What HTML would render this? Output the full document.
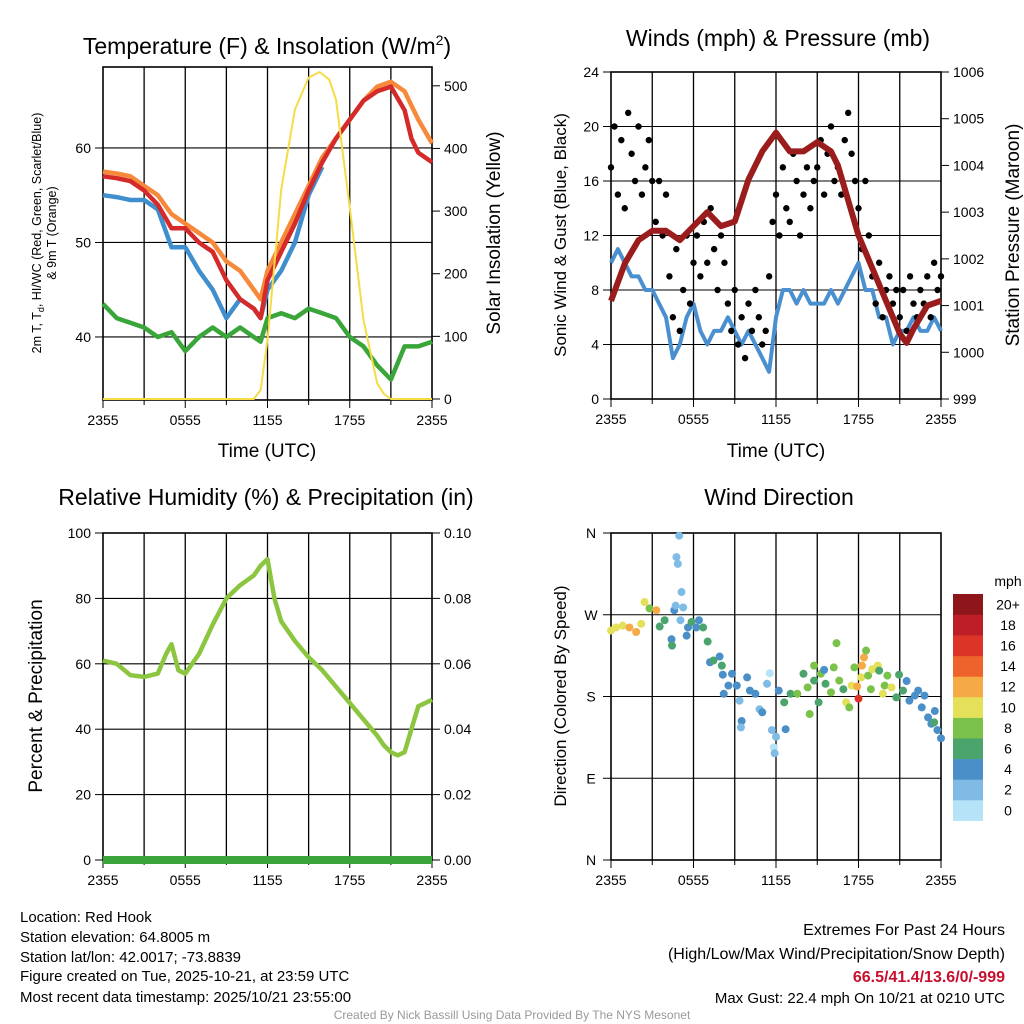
<!DOCTYPE html>
<html><head><meta charset="utf-8"><style>
body{margin:0;background:#fff}
svg{display:block;font-family:"Liberation Sans",Arial,sans-serif}
</style></head><body>
<svg id="s" width="1024" height="1024" viewBox="0 0 1024 1024" xmlns="http://www.w3.org/2000/svg">
<rect width="1024" height="1024" fill="#fff"/>
<g id="g"></g>
<g font-size="15" fill="#000">
<text x="20" y="922">Location: Red Hook</text>
<text x="20" y="942">Station elevation: 64.8005 m</text>
<text x="20" y="962">Station lat/lon: 42.0017; -73.8839</text>
<text x="20" y="981">Figure created on Tue, 2025-10-21, at 23:59 UTC</text>
<text x="20" y="1002">Most recent data timestamp: 2025/10/21 23:55:00</text>
</g>
<g font-size="16" text-anchor="end">
<text x="1005" y="935">Extremes For Past 24 Hours</text>
<text x="1005" y="959">(High/Low/Max Wind/Precipitation/Snow Depth)</text>
<text x="1005" y="982" fill="#c8102e" font-weight="bold">66.5/41.4/13.6/0/-999</text>
<text x="1005" y="1003" font-size="15">Max Gust: 22.4 mph On 10/21 at 0210 UTC</text>
</g>
<text x="512" y="1019" font-size="12" fill="#999" text-anchor="middle">Created By Nick Bassill Using Data Provided By The NYS Mesonet</text>
</svg>
<script>
// ---- data ----
const xTickLabels = ["2355","0555","1155","1755","2355"];
const tempHours = [0,1,2,3,4,5,6,7,8,9,10,11,11.5,12,13,14,15,16,17,18,19,20,21,22,22.5,23,24];
const temp9m   = [57.5,57.3,57,56,55,53,52,51,50,48,47,45,44,47,50,53,56,59,61,63,65,66.5,67,66,64.5,63,60.5];
const temp2m   = [57,56.8,56.5,55.5,54,51.5,51.5,50,49,46,44,43,42,46,49,52,55.5,58.5,61,63,65,66,66.5,64,61,59.5,58.5];
const windChill= [55,54.8,54.5,54.5,53.5,49.5,49.5,47,45,42,44,43,42,45,47,50,55,58,null,null,null,null,null,null,null,null,null];
const dewpoint = [43.5,42,41.5,41,40,40.5,38.5,40,41,40,41,40,39.5,42,42.5,42,43,42.5,42,40,39,37,35.5,39,39,39,39.5];
const solarHours = [0,11,11.5,12,13,14,15,15.8,16.5,17,18,19,20,20.5,21,24];
const solar = [0,0,14,94,334,462,513,522,510,478,305,126,25,8,0,0];
const windHours = [];for(let i=0;i<=48;i++)windHours.push(i*0.5);
const sonicWind = [10,11,10,9,9,8,8,7,6,3,4,6,7,5,4,5,5,6,5,4,5,4,3,2,6,8,8,7,8,7,7,7,8,7,8,9,10,8,8,6,6,4,5,5,6,5,5,6,5];
const gusts = [17,20,15,19,14,21,18,16,20,15,17,19,16,13,16,12,15,9,6,11,5,8,12,7,10,12,9,13,10,14,11,8,12,10,7,5,8,4,6,3,7,5,8,6,4,5,9,13,15,12,17,14,13,18,16,12,15,17,14,16,17,19,15,18,20,16,17,15,19,21,18,16,14,11,16,12,9,7,10,6,8,9,7,8,6,8,5,9,7,6,8,7,9,6,10,8,9];
const presHours = [0,1,2,3,4,5,6,7,8,9,10,11,11.5,12,12.5,13,14,15,16,16.5,17,18,19,20,21,21.5,22,23,24];
const pressure = [1001.1,1001.9,1002.4,1002.6,1002.6,1002.4,1002.7,1003.0,1002.7,1002.8,1003.7,1004.3,1004.5,1004.7,1004.5,1004.3,1004.3,1004.5,1004.3,1004.0,1003.5,1002.5,1001.8,1001.1,1000.4,1000.2,1000.5,1001.0,1001.1];
const rhHours = [0,1,2,3,4,4.6,5,5.5,6,6.5,7,8,9,10,11,11.5,12,12.5,13,14,15,16,17,18,19,20,20.5,21,21.5,22,22.5,23,24];
const rh = [61,60,56.5,56,57,63,66,58,57,60,63,72,80,84,87,90,92,80,73,67,62,58,53,48,43,38,35,33,32,33,40,47,49];
const precip = [0,0];
const dirHours = [0,0.37,0.85,1.34,1.83,2.2,2.44,2.8,3.3,3.54,3.9,4.4,4.44,4.6,4.7,4.76,4.86,4.96,5.13,5.25,5.05,5.5,5.6,5.86,6.2,6.4,6.7,7.03,7.2,7.45,7.9,8.06,8.13,8.2,8.54,8.8,9.15,9.35,9.5,9.45,9.9,10.1,10.5,10.8,11,11.35,11.55,11.7,11.84,11.9,12,12.2,12.6,12.7,13.06,13.55,14,14.3,14.45,14.77,14.77,15.1,15.26,15.5,15.6,16,16.2,16.4,16.6,16.9,17.1,17.33,17.5,17.7,17.9,18,18.2,18.25,18.4,18.55,18.7,18.9,19,19.4,19.5,19.77,19.9,20.1,20.4,20.75,20.95,21.24,21.5,21.7,22.1,22.34,22.6,22.8,23.06,23.3,23.5,23.55,23.74,24];
const dirDeg = [252.6,256,258,256,251,260,284,277,275,257,264,243,236,275,280,333.5,326,357,295,278,264,247,256,262,256,264,256,240.5,217.7,219.6,224,214,204,183,192,205,192,175.4,153,146,201,186.5,183,166,162.6,194,205.6,143,124,117.5,135.7,186.5,173.6,144,183,183,205,190,160.7,214,197.5,173.6,205,209.3,194,184.6,212,238.7,197.5,188,173.6,168,192,212,191,177.6,201,214,223,230.6,203,188,210,214,208.5,183,192,203,190,179,204,186.5,197,175.4,181,186.5,168,181,157,150,151.5,164,143,134];
const dirSpeed = [10,10,10,12,12,10,10,8,12,6,6,4,6,4,2,2,2,2,2,2,2,4,4,6,4,4,6,6,4,6,4,6,4,4,4,4,4,2,4,2,4,4,4,2,4,2,0,2,0,2,2,4,6,4,6,8,6,8,8,8,6,6,8,4,6,8,8,8,8,6,10,8,10,8,12,16,10,12,12,8,8,8,10,10,6,10,8,8,10,6,6,6,4,4,4,4,4,4,4,4,6,4,4,4];
const cbLabels = ["0","2","4","6","8","10","12","14","16","18","20+"];
const cbColors = ["#b6e3f8","#7fbbe4","#4a8fc8","#4aa46c","#7bc24b","#e4e05a","#f5aa46","#ee622b","#dc3528","#be1e26","#8e1519"];

// ---- helpers ----
const NS="http://www.w3.org/2000/svg";const G=document.getElementById('g');
function mk(tag,attrs,parent){const e=document.createElementNS(NS,tag);for(const k in attrs)e.setAttribute(k,attrs[k]);(parent||G).appendChild(e);return e;}
function txt(x,y,s,size,anchor,rot){const e=mk('text',{x:x,y:y,'font-size':size,'text-anchor':anchor||'middle'});if(rot)e.setAttribute('transform','rotate(-90 '+x+' '+y+')');e.textContent=s;return e;}
function scale(d0,d1,r0,r1){return v=>r0+(v-d0)/(d1-d0)*(r1-r0);}
function linePath(xs,ys,fx,fy){let d='',pen=false;for(let i=0;i<xs.length;i++){if(ys[i]==null){pen=false;continue;}d+=(pen?'L':'M')+fx(xs[i]).toFixed(1)+' '+fy(ys[i]).toFixed(1);pen=true;}return d;}
function frame(x0,x1,y0,y1,hgrid){
  const g=mk('g',{});
  for(let i=1;i<8;i++){const x=x0+(x1-x0)*i/8;const l=mk('line',{x1:x,x2:x,y1:y0,y2:y1,stroke:'#000','stroke-width':1.3},g);}
  hgrid.forEach(y=>{const l=mk('line',{x1:x0,x2:x1,y1:y,y2:y,stroke:'#000','stroke-width':1.1},g);});
  const r=mk('rect',{x:x0,y:y0,width:x1-x0,height:y1-y0,fill:'none',stroke:'#000','stroke-width':1.6},g);
  
  for(let i=0;i<=8;i++){const x=x0+(x1-x0)*i/8;mk('line',{x1:x,x2:x,y1:y1,y2:y1+(i%2?5:8),stroke:'#000'},g);}
  xTickLabels.forEach((s,i)=>{const t=txt(x0+(x1-x0)*i/4,y1+25,s,14);});
}
function yTicks(x,vals,fy,fmt,side){vals.forEach(v=>{const y=fy(v);mk('line',{x1:x,x2:x+(side<0?-8:8),y1:y,y2:y,stroke:'#000'});const t=txt(x+(side<0?-12:12),y+5,fmt(v),14,side<0?'end':'start');});}

// ---- Panel 1: Temperature ----
(function(){
 const x0=103,x1=432,y0=67,y1=400;
 const fx=scale(0,24,x0,x1), fy=scale(33.33,68.57,y1,y0), fs=scale(0,530,399,67);
 frame(x0,x1,y0,y1,[40,50,60].map(fy));
 yTicks(x0,[40,50,60],fy,v=>v,-1); yTicks(x1,[0,100,200,300,400,500],fs,v=>v,1);
 const series=[[dewpoint,'#3aa63a','dewpoint-line'],[windChill,'#3f8fce','wind-chill-line'],[temp9m,'#f7893a','temp-9m-line'],[temp2m,'#d42a2a','temp-2m-line']];
 series.forEach(s=>{const p=mk('path',{d:linePath(tempHours,s[0],fx,fy),fill:'none',stroke:s[1],'stroke-width':4.5,'stroke-linejoin':'round'});});
 const sp=mk('path',{d:linePath(solarHours,solar,fx,fs),fill:'none',stroke:'#f5dc45','stroke-width':2,'stroke-linejoin':'round'});
 
 const t=mk('text',{x:267,y:54,'font-size':23,'text-anchor':'middle'});t.innerHTML='Temperature (F) &amp; Insolation (W/m<tspan font-size="14" dy="-9">2</tspan><tspan dy="9">)</tspan>';
 
 const xt=txt(267,457,'Time (UTC)',19);
 const yl=mk('text',{x:41,y:233,'font-size':12.5,'text-anchor':'middle',transform:'rotate(-90 41 233)'});
 yl.innerHTML='2m T, T<tspan font-size="9" dy="3">d</tspan><tspan dy="-3">, HI/WC (Red, Green, Scarlet/Blue)</tspan>';
 
 const yl2=txt(56,233,'& 9m T (Orange)',12.5,'middle',true);
 const yr=txt(500,233,'Solar Insolation (Yellow)',19,'middle',true);
})();

// ---- Panel 2: Winds ----
(function(){
 const x0=611,x1=941,y0=72,y1=399;
 const fx=scale(0,24,x0,x1), fy=scale(0,24,y1,y0), fp=scale(999,1006,y1,y0);
 frame(x0,x1,y0,y1,[4,8,12,16,20].map(fy));
 yTicks(x0,[0,4,8,12,16,20,24],fy,v=>v,-1); yTicks(x1,[999,1000,1001,1002,1003,1004,1005,1006],fp,v=>v,1);
 const bp=mk('path',{d:linePath(windHours,sonicWind,fx,fy),fill:'none',stroke:'#4a90d0','stroke-width':4,'stroke-linejoin':'round'});
 
 gusts.forEach((v,i)=>{const c=mk('circle',{cx:fx(i*0.25),cy:fy(v),r:3.2,fill:'#000'});});
 const pp=mk('path',{d:linePath(presHours,pressure,fx,fp),fill:'none',stroke:'#9b1c1c','stroke-width':6,'stroke-linejoin':'round'});
 
 const t=txt(778,46,'Winds (mph) & Pressure (mb)',23);
 const xt=txt(776,457,'Time (UTC)',19);
 const yl=txt(566,235,'Sonic Wind & Gust (Blue, Black)',17,'middle',true);
 const yr=txt(1019,235,'Station Pressure (Maroon)',19,'middle',true);
})();

// ---- Panel 3: RH ----
(function(){
 const x0=103,x1=432,y0=533,y1=860;
 const fx=scale(0,24,x0,x1), fy=scale(0,100,y1,y0), fpr=scale(0,0.1,y1,y0);
 frame(x0,x1,y0,y1,[20,40,60,80].map(fy));
 yTicks(x0,[0,20,40,60,80,100],fy,v=>v,-1); yTicks(x1,[0,0.02,0.04,0.06,0.08,0.1],fpr,v=>v.toFixed(2),1);
 const rp=mk('path',{d:linePath(rhHours,rh,fx,fy),fill:'none',stroke:'#8cc640','stroke-width':4.5,'stroke-linejoin':'round'});
 
 const pp=mk('path',{d:linePath([0,24],precip,fx,fpr),fill:'none',stroke:'#3aa33a','stroke-width':8});
 
 const t=txt(266,505,'Relative Humidity (%) & Precipitation (in)',23);
 const yl=txt(42,696,'Percent & Precipitation',19,'middle',true);
})();

// ---- Panel 4: Wind direction ----
(function(){
 const x0=611,x1=941,y0=533,y1=860;
 const fx=scale(0,24,x0,x1), fy=scale(0,360,y1,y0);
 frame(x0,x1,y0,y1,[90,180,270].map(fy));
 ['N','E','S','W','N'].forEach((s,i)=>{const y=fy(i*90);mk('line',{x1:x0,x2:x0-8,y1:y,y2:y,stroke:'#000'});const t=txt(591,y+5,s,14);});
 dirHours.forEach((h,i)=>{const idx=Math.min(10,Math.max(0,Math.round(dirSpeed[i]/2)));const c=mk('circle',{cx:fx(h),cy:fy(dirDeg[i]),r:4,fill:cbColors[idx]});});
 const t=txt(779,505,'Wind Direction',23);
 const yl=txt(566,696,'Direction (Colored By Speed)',17,'middle',true);
 const cbx=953,cbTop=594,h=20.6;
 cbColors.forEach((c,i)=>{const y=cbTop+(10-i)*h;const r=mk('rect',{x:cbx,y:y,width:30,height:h+0.3,fill:c});
  const l=txt(1008,y+h/2+5,cbLabels[i],14);});
 const u=txt(1008,586,'mph',14);
})();
</script>
</body></html>
